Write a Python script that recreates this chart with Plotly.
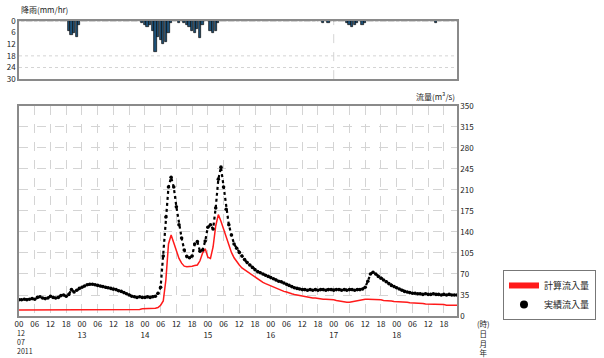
import pandas as pd
import plotly.graph_objects as go

# ---------------- data (hourly, 2011-07-12 00:00 .. 2011-07-18 23:00) ----------------
start = "2011-07-12 00:00"
n_hours = 168

observed_inflow = [
    # day 12
    27, 27, 28, 27, 28, 29, 28, 31, 32, 30, 29, 30, 33, 31, 30, 31, 34, 35, 33, 36, 44, 40, 43, 46,
    # day 13
    48, 50, 52, 53, 53, 52, 51, 50, 49, 48, 47, 46, 45, 44, 42, 41, 39, 37, 35, 33, 32, 31, 32, 31,
    # day 14
    31, 32, 31, 32, 33, 38, 48, 100, 165, 215, 231, 215, 182, 152, 130, 110, 99, 97, 100, 120, 124, 108, 110, 125,
    # day 15
    148, 152, 145, 180, 228, 248, 215, 178, 152, 135, 120, 113, 106, 100, 94, 89, 85, 81, 77, 74, 72, 70, 68, 66,
    # day 16
    64, 62, 60, 58, 57, 55, 53, 51, 49, 47, 46, 45, 44, 44, 43, 44, 43, 44, 43, 44, 44, 43, 44, 44,
    # day 17
    43, 44, 44, 43, 44, 43, 44, 44, 43, 44, 44, 45, 48, 58, 70, 73, 70, 66, 63, 60, 57, 54, 51, 49,
    # day 18
    47, 45, 43, 41, 40, 39, 38, 38, 37, 37, 36, 37, 36, 36, 37, 36, 36, 35, 36, 35, 36, 35, 35, 35,
]

computed_inflow = [
    # day 12
    10, 10, 10, 10, 10, 10, 10, 10, 10, 10, 10, 10, 10, 10, 10, 10, 10, 10, 10, 10, 10, 10, 10, 10,
    # day 13
    11, 11, 11, 11, 11, 11, 11, 11, 11, 11, 11, 11, 11, 11, 11, 11, 11, 11, 11, 11, 11, 11, 11, 12,
    # day 14
    12, 12, 12, 12, 13, 14, 18, 25, 60, 120, 135, 122, 108, 96, 88, 83, 82, 82, 83, 84, 85, 92, 105, 112,
    # day 15
    98, 96, 115, 150, 169, 158, 145, 130, 118, 106, 97, 90, 85, 80, 77, 74, 70, 67, 64, 61, 58, 56, 54, 52,
    # day 16
    50, 48, 46, 44, 43, 41, 40, 38, 37, 36, 35, 34, 33, 32, 32, 31, 30, 30, 29, 29, 28, 28, 28, 27,
    # day 17
    27, 26, 25, 24, 23, 23, 23, 24, 25, 26, 27, 27, 28, 28, 28, 28, 28, 27, 27, 26, 26, 25, 25, 24,
    # day 18
    24, 24, 23, 23, 23, 22, 22, 22, 21, 21, 21, 20, 20, 20, 20, 19, 19, 19, 19, 18, 18, 18, 18, 18,
]

rainfall = [
    # day 12
    0, 0, 0, 0, 0, 0, 0, 0, 0, 0, 0, 0, 0, 0, 0, 0, 0, 0, 0, 5, 7, 6, 8, 2,
    # day 13
    0, 0, 0, 0, 0, 0, 0, 0, 0, 0, 0, 0, 0, 0, 0, 0, 0, 0, 0, 0, 0, 0, 0, 1,
    # day 14
    2, 3, 2, 5, 16, 8, 10, 12, 11, 6, 1, 0, 0, 1, 0, 1, 2, 3, 5, 6, 4, 9, 2, 0,
    # day 15
    0, 5, 6, 5, 1, 0, 0, 0, 0, 0, 0, 0, 0, 0, 0, 0, 0, 0, 0, 0, 0, 0, 0, 0,
    # day 16
    0, 0, 0, 0, 0, 0, 0, 0, 0, 0, 0, 0, 0, 0, 0, 0, 0, 0, 0, 0, 1, 0, 1, 0,
    # day 17
    0, 0, 0, 0, 0, 1, 2, 3, 2, 1, 0, 2, 1, 0, 0, 0, 0, 0, 0, 0, 0, 0, 0, 0,
    # day 18
    0, 0, 0, 0, 0, 0, 0, 0, 0, 0, 0, 0, 0, 0, 0, 1, 0, 0, 0, 0, 0, 0, 0, 0,
]

flow_ticks = [0, 35, 70, 105, 140, 175, 210, 245, 280, 315, 350]
rain_ticks = [0, 6, 12, 18, 24, 30]
day_labels = ["12", "13", "14", "15", "16", "17", "18"]
hour_labels = ["00", "06", "12", "18"]
start_label = "12<br>07<br>2011"

times = pd.date_range(start, periods=n_hours, freq="h")

# x tick labels (the first day's date block is drawn as one annotation)
tickvals, ticktext = [], []
for d, day in enumerate(day_labels):
    for k, hl in enumerate(hour_labels):
        tickvals.append(pd.Timestamp(start) + pd.Timedelta(days=d, hours=6 * k))
        if k == 0 and d > 0:
            ticktext.append(f"{hl}<br>{day}")
        else:
            ticktext.append(hl)

FONT = "Noto Sans CJK JP"
GRID = "#d4d4d4"
FRAME = "#8a8a8a"

fig = go.Figure()

fig.add_trace(go.Bar(
    x=times, y=rainfall, xaxis="x2", yaxis="y2",
    marker=dict(color="#1d5279", line=dict(color="#0a0a0a", width=0.7)),
    width=3600 * 1000 * 0.85, showlegend=False,
))

fig.add_trace(go.Scatter(
    x=times, y=computed_inflow, mode="lines", showlegend=False,
    line=dict(color="#ff1a1a", width=1.5),
))
fig.add_trace(go.Scatter(
    x=times, y=observed_inflow, mode="lines+markers", showlegend=False,
    line=dict(color="#000000", width=2.2, dash="dot"),
    marker=dict(color="#000000", size=3.6),
))

# legend entries
fig.add_trace(go.Scatter(
    x=[None], y=[None], mode="lines", name="計算流入量",
    line=dict(color="#ff1a1a", width=6),
))
fig.add_trace(go.Scatter(
    x=[None], y=[None], mode="markers", name="実績流入量",
    marker=dict(color="#000000", size=8),
))

x_range = [pd.Timestamp(start), pd.Timestamp(start) + pd.Timedelta(hours=n_hours - 1)]

fig.update_layout(
    width=604, height=358,
    margin=dict(l=19, r=147, t=21, b=42, autoexpand=False),
    paper_bgcolor="white", plot_bgcolor="white",
    font=dict(family=FONT, size=8, color="#222222"),
    bargap=0,
    xaxis=dict(
        domain=[0, 1], range=x_range, anchor="y",
        tickmode="array", tickvals=tickvals, ticktext=ticktext, tickangle=0,
        showgrid=True, gridcolor=GRID, griddash="dash", gridwidth=1,
        showline=True, linecolor=FRAME, linewidth=1.5, mirror=True,
        ticks="", tickfont=dict(size=8), zeroline=False, automargin=False,
    ),
    yaxis=dict(
        domain=[0, 0.712], range=[0, 350], side="right",
        tickmode="array", tickvals=flow_ticks,
        showgrid=True, gridcolor=GRID, griddash="dash", gridwidth=1,
        showline=True, linecolor=FRAME, linewidth=1.5, mirror=True,
        ticks="", tickfont=dict(size=8), zeroline=False, automargin=False,
    ),
    xaxis2=dict(
        domain=[0, 1], range=x_range, anchor="y2",
        showticklabels=False, showgrid=False, automargin=False,
        showline=True, linecolor=FRAME, linewidth=1.5, mirror=True, ticks="",
    ),
    yaxis2=dict(
        domain=[0.803, 1], range=[30, 0], anchor="x2",
        tickmode="array", tickvals=rain_ticks, automargin=False,
        showgrid=False, showline=True, linecolor=FRAME, linewidth=1.5, mirror=True,
        ticks="", tickfont=dict(size=8), zeroline=False,
    ),
    legend=dict(
        x=1.105, y=0.156, xanchor="left", yanchor="top",
        bordercolor="#777777", borderwidth=1, bgcolor="white",
        font=dict(size=9, family=FONT), tracegroupgap=0, itemwidth=30,
    ),
)

# rain panel guide lines
for v in [18, 24]:
    fig.add_shape(type="line", xref="x2 domain", yref="y2", x0=0, x1=1, y0=v, y1=v,
                  line=dict(color=GRID, width=1, dash="dot"), layer="below")
fig.add_shape(type="line", xref="x2", yref="y2 domain",
              x0=pd.Timestamp("2011-07-17 00:00"), x1=pd.Timestamp("2011-07-17 00:00"), y0=0, y1=1,
              line=dict(color=GRID, width=1, dash="dash"), layer="below")

fig.add_annotation(text="降雨(mm/hr)", xref="paper", yref="paper", x=0.0, y=1.0,
                   xanchor="left", yanchor="bottom", yshift=4, showarrow=False,
                   font=dict(size=8, family=FONT))
fig.add_annotation(text="流量(m³/s)", xref="paper", yref="paper", x=1.0, y=0.712,
                   xanchor="right", yanchor="bottom", yshift=2, showarrow=False,
                   font=dict(size=8, family=FONT))
fig.add_annotation(text="(時)<br>日<br>月<br>年", xref="paper", yref="paper", x=1.06, y=0,
                   xanchor="center", yanchor="top", yshift=0, showarrow=False,
                   font=dict(size=7.5, family=FONT))
fig.add_annotation(text=start_label, xref="paper", yref="paper", x=0, y=0,
                   xanchor="left", yanchor="top", xshift=-3, yshift=-11, showarrow=False,
                   align="left", borderpad=0, font=dict(size=7, family=FONT))

# remove the default 8px page margin so the figure sits at the window's top-left
fig.write_html("out.html", config={"displayModeBar": False},
               post_script="document.body.style.margin='0';")
